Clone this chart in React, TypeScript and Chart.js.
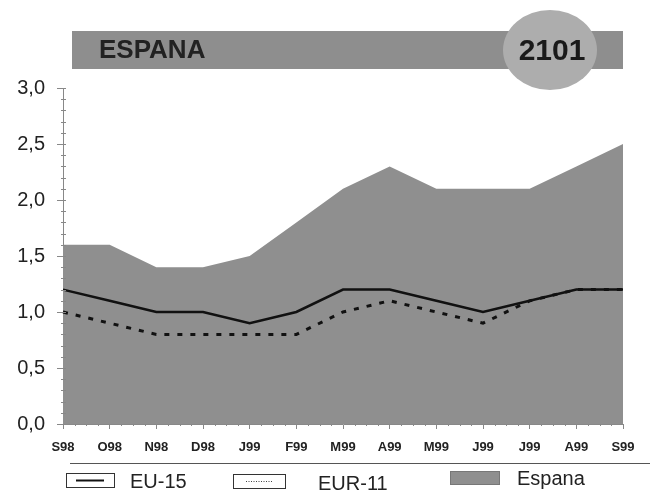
import React, { useEffect, useRef } from "react";
import { Chart, registerables } from "chart.js";

Chart.register(...registerables);

const categories = ["S98", "O98", "N98", "D98", "J99", "F99", "M99", "A99", "M99", "J99", "J99", "A99", "S99"];
const espana = [1.6, 1.6, 1.4, 1.4, 1.5, 1.8, 2.1, 2.3, 2.1, 2.1, 2.1, 2.3, 2.5];
const eu15 = [1.2, 1.1, 1.0, 1.0, 0.9, 1.0, 1.2, 1.2, 1.1, 1.0, 1.1, 1.2, 1.2];
const eur11 = [1.0, 0.9, 0.8, 0.8, 0.8, 0.8, 1.0, 1.1, 1.0, 0.9, 1.1, 1.2, 1.2];
const yTicks = [0, 0.5, 1.0, 1.5, 2.0, 2.5, 3.0];
const title = "ESPANA";
const badge = "2101";
const legendLabels = ["EU-15", "EUR-11", "Espana"];

const FONT = '"Liberation Sans", Arial, Helvetica, sans-serif';
const NARROW = '"Liberation Sans Narrow", "Liberation Sans", Arial, sans-serif';

const decorPlugin = {
  id: "decor",
  afterDatasetsDraw(chart: any) {
    const ctx = chart.ctx;
    const y = chart.scales.y;
    const x = chart.scales.x;
    const area = chart.chartArea;
    ctx.save();
    ctx.strokeStyle = "#888";
    ctx.lineWidth = 1;
    for (let v = 0; v <= 3.0001; v += 0.1) {
      const py = Math.round(y.getPixelForValue(v)) + 0.5;
      ctx.beginPath();
      ctx.moveTo(area.left - 2, py);
      ctx.lineTo(area.left + 3, py);
      ctx.stroke();
    }
    for (let i = 0; i < categories.length - 1; i++) {
      const a = x.getPixelForValue(i);
      const b = x.getPixelForValue(i + 1);
      for (let k = 1; k < 4; k++) {
        const px = Math.round(a + ((b - a) * k) / 4) + 0.5;
        ctx.beginPath();
        ctx.moveTo(px, area.bottom);
        ctx.lineTo(px, area.bottom + 2);
        ctx.stroke();
      }
    }
    ctx.restore();
  },
  afterDraw(chart: any) {
    const ctx = chart.ctx;
    ctx.save();
    // banner
    ctx.fillStyle = "#8e8e8e";
    ctx.fillRect(72, 31, 551, 38);
    ctx.fillStyle = "#222";
    ctx.font = "bold 26px " + FONT;
    ctx.textBaseline = "middle";
    ctx.textAlign = "left";
    ctx.fillText(title, 99, 51);
    // ellipse
    ctx.fillStyle = "#adadad";
    ctx.beginPath();
    ctx.ellipse(550, 50, 47, 40, 0, 0, Math.PI * 2);
    ctx.fill();
    ctx.fillStyle = "#1a1a1a";
    ctx.font = "bold 30px " + FONT;
    ctx.textAlign = "center";
    ctx.fillText(badge, 552, 52);

    // legend separator
    ctx.strokeStyle = "#555";
    ctx.lineWidth = 1.2;
    ctx.beginPath();
    ctx.moveTo(70, 463.5);
    ctx.lineTo(650, 463.5);
    ctx.stroke();

    // EU-15 box
    ctx.fillStyle = "#fff";
    ctx.strokeStyle = "#333";
    ctx.lineWidth = 1;
    ctx.fillRect(66, 473, 48, 14);
    ctx.strokeRect(66.5, 473.5, 48, 14);
    ctx.strokeStyle = "#111";
    ctx.lineWidth = 2;
    ctx.beginPath();
    ctx.moveTo(76, 480.5);
    ctx.lineTo(104, 480.5);
    ctx.stroke();
    // EUR-11 box
    ctx.strokeStyle = "#333";
    ctx.lineWidth = 1;
    ctx.strokeRect(233.5, 474.5, 52, 14);
    ctx.strokeStyle = "#444";
    ctx.setLineDash([1, 1.5]);
    ctx.beginPath();
    ctx.moveTo(246, 481.5);
    ctx.lineTo(273, 481.5);
    ctx.stroke();
    ctx.setLineDash([]);
    // Espana box
    ctx.fillStyle = "#8f8f8f";
    ctx.fillRect(450, 471, 50, 14);
    ctx.strokeStyle = "#777";
    ctx.strokeRect(450.5, 471.5, 49, 13);

    ctx.fillStyle = "#222";
    ctx.font = "20px " + FONT;
    ctx.textAlign = "left";
    ctx.textBaseline = "middle";
    ctx.fillText(legendLabels[0], 130, 482);
    ctx.fillText(legendLabels[1], 318, 484);
    ctx.fillText(legendLabels[2], 517, 479);
    ctx.restore();
  },
};

export default function App() {
  const ref = useRef<HTMLCanvasElement | null>(null);
  useEffect(() => {
    if (!ref.current) return;
    const chart = new Chart(ref.current, {
      type: "line",
      data: {
        labels: categories,
        datasets: [
          {
            label: "EU-15",
            data: eu15,
            borderColor: "#111",
            borderWidth: 2.5,
            pointRadius: 0,
            fill: false,
            tension: 0,
          },
          {
            label: "EUR-11",
            data: eur11,
            borderColor: "#111",
            borderWidth: 3,
            borderDash: [5, 8],
            pointRadius: 0,
            fill: false,
            tension: 0,
          },
          {
            label: "Espana",
            data: espana,
            borderColor: "#8f8f8f",
            borderWidth: 0,
            backgroundColor: "#8f8f8f",
            pointRadius: 0,
            fill: "origin",
            tension: 0,
          },
        ],
      },
      options: {
        responsive: false,
        animation: false,
        layout: { padding: { top: 88, right: 27, left: 0, bottom: 0 } },
        plugins: { legend: { display: false }, tooltip: { enabled: false } },
        scales: {
          x: {
            offset: false,
            grid: { drawOnChartArea: false, tickLength: 5, color: "#888" },
            border: { color: "#888" },
            ticks: {
              color: "#222",
              font: { family: NARROW, size: 13, weight: "bold" },
              padding: 11,
              maxRotation: 0,
              autoSkip: false,
            },
            afterFit: (s: any) => {
              s.height = 70;
            },
          },
          y: {
            min: 0,
            max: 3,
            afterBuildTicks: (s: any) => {
              s.ticks = yTicks.map((v) => ({ value: v }));
            },
            grid: { drawOnChartArea: false, tickLength: 6, color: "#888" },
            border: { color: "#888" },
            ticks: {
              color: "#222",
              font: { family: FONT, size: 20 },
              padding: 12,
              callback: (v: any) => Number(v).toFixed(1).replace(".", ","),
            },
            afterFit: (s: any) => {
              s.width = 63;
            },
          },
        },
      },
      plugins: [decorPlugin],
    });
    return () => chart.destroy();
  }, []);
  return (
    <div style={{ position: "absolute", left: 0, top: 0, width: 650, height: 494, background: "#fff" }}>
      <canvas ref={ref} width={650} height={494} style={{ width: 650, height: 494 }} />
    </div>
  );
}
